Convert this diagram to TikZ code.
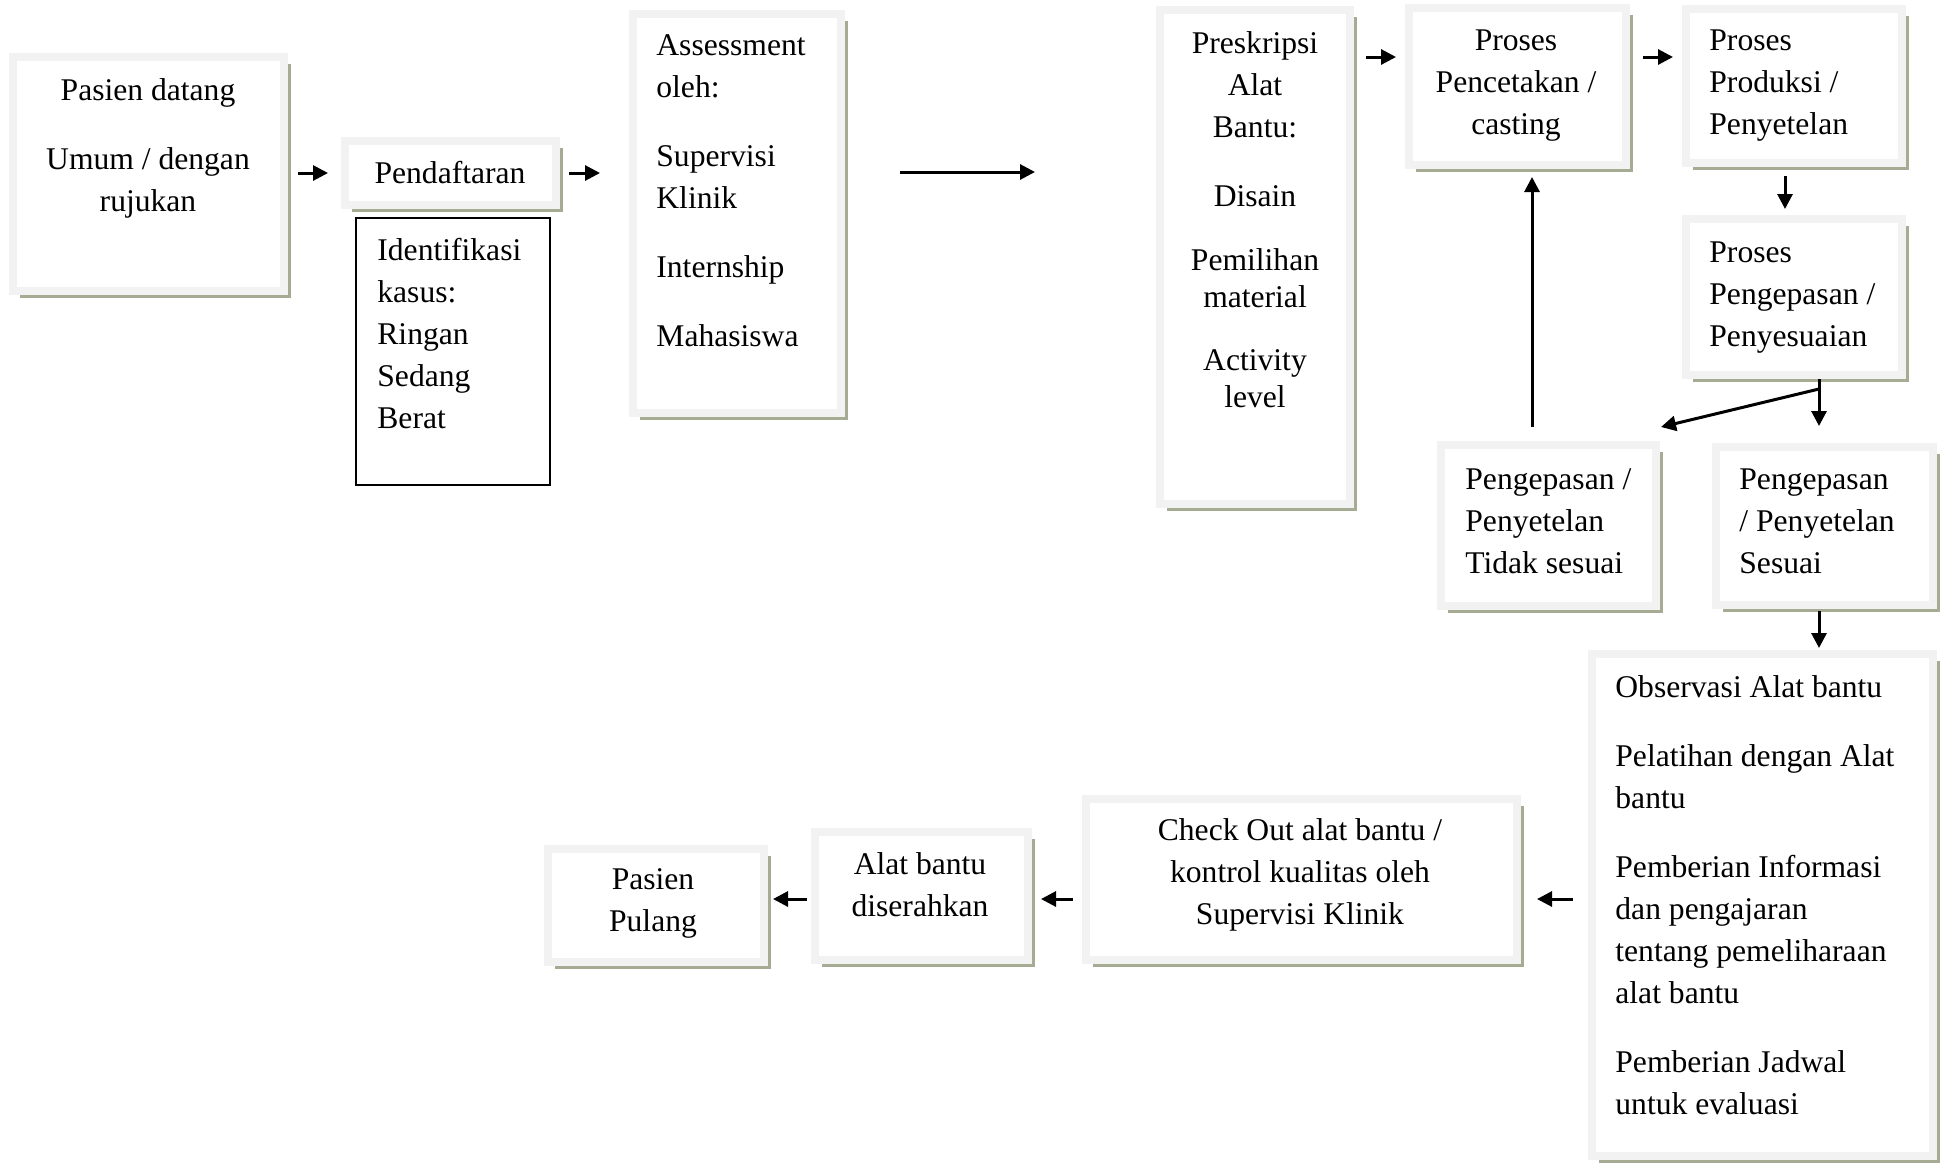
\documentclass[tikz,border=0pt]{standalone}
\usepackage{fontspec}
\setmainfont{Liberation Serif}
\usetikzlibrary{arrows.meta,fit,shadows,calc}
\definecolor{rimgrey}{RGB}{242,242,242}
\definecolor{shade}{RGB}{166,172,148}
\begin{document}
\begin{tikzpicture}[x=0.5pt,y=-0.5pt,
  stepbox/.style={draw=rimgrey, line width=4pt, fill=white, inner sep=0pt,
     drop shadow={shadow xshift=3.5pt, shadow yshift=-3.5pt, fill=shade, opacity=1}},
  casebox/.style={draw=black, line width=0.8pt, inner sep=0pt},
  lbl/.style={inner sep=0pt, font=\fontsize{15.8pt}{21pt}\selectfont},
  arr/.style={line width=1.5pt, -{Triangle[length=7.5pt,width=7.5pt]}},
]
\path[use as bounding box, fill=white] (0,0) rectangle (1942,1163);

% boxes
\node[stepbox, fit={(13,57) (284,291)}] (b1) {};
\node[stepbox, fit={(345,141) (556,205)}] (b2) {};
\node[casebox, fit={(356,218) (550,485)}] (b3) {};
\node[stepbox, fit={(633,14) (841,413)}] (b4) {};
\node[stepbox, fit={(1160,10) (1350,504)}] (b5) {};
\node[stepbox, fit={(1409,8) (1626,165)}] (b6) {};
\node[stepbox, fit={(1686,9) (1902,163)}] (b7) {};
\node[stepbox, fit={(1686,219) (1902,375)}] (b8) {};
\node[stepbox, fit={(1441,445) (1656,606)}] (b9) {};
\node[stepbox, fit={(1716,447) (1933,605)}] (b10) {};
\node[stepbox, fit={(1592,654) (1933,1156)}] (b11) {};
\node[stepbox, fit={(1086,799) (1517,960)}] (b12) {};
\node[stepbox, fit={(815,832) (1028,960)}] (b13) {};
\node[stepbox, fit={(548,849) (764,962)}] (b14) {};

% texts (anchored at the baseline of their last line)
\node[lbl, align=center, anchor=base] (t1) at (148,211) {Pasien datang\\[13.5pt]Umum / dengan\\rujukan};
\node[lbl, align=center, anchor=base] (t2) at (450,183) {Pendaftaran};
\node[lbl, align=left, anchor=base west] (t3) at (377,428) {Identifikasi\\kasus:\\Ringan\\Sedang\\Berat};
\node[lbl, align=left, anchor=base west] (t4) at (656,346) {Assessment\\oleh:\\[13.5pt]Supervisi\\Klinik\\[13.5pt]Internship\\[13.5pt]Mahasiswa};
\node[lbl, align=center, anchor=base] (t5) at (1255,407) {Preskripsi\\Alat\\Bantu:\\[13.5pt]Disain\\[11pt]Pemilihan\\[-2.5pt]material\\[10.5pt]Activity\\[-2.5pt]level};
\node[lbl, align=center, anchor=base] (t6) at (1516,134) {Proses\\Pencetakan /\\casting};
\node[lbl, align=left, anchor=base west] (t7) at (1709,134) {Proses\\Produksi /\\Penyetelan};
\node[lbl, align=left, anchor=base west] (t8) at (1709,346) {Proses\\Pengepasan /\\Penyesuaian};
\node[lbl, align=left, anchor=base west] (t9) at (1465,573) {Pengepasan /\\Penyetelan\\Tidak sesuai};
\node[lbl, align=left, anchor=base west] (t10) at (1739,573) {Pengepasan\\/ Penyetelan\\Sesuai};
\node[lbl, align=left, anchor=base west] (t11) at (1615,1114) {Observasi Alat bantu\\[13.5pt]Pelatihan dengan Alat\\bantu\\[13.5pt]Pemberian Informasi\\dan pengajaran\\tentang pemeliharaan\\alat bantu\\[13.5pt]Pemberian Jadwal\\untuk evaluasi};
\node[lbl, align=center, anchor=base] (t12) at (1300,924) {Check Out alat bantu /\\kontrol kualitas oleh\\Supervisi Klinik};
\node[lbl, align=center, anchor=base] (t13) at (920,916) {Alat bantu\\diserahkan};
\node[lbl, align=center, anchor=base] (t14) at (653,931) {Pasien\\Pulang};

% helper levels for the connectors
\coordinate (rowA) at (0,57);
\coordinate (rowB) at (0,899);
\coordinate (colA) at (1785,0);
\coordinate (colB) at (1819,0);
\coordinate (colC) at (1532,0);
\coordinate (farL) at (900,172);
\coordinate (farR) at (1035,172);
\coordinate (fork) at ($(b8.south -| colB)+(0,10)$);

% connectors
\draw[arr, shorten <=5pt, shorten >=6.5pt] (b1.east |- b2.west) -- (b2.west);
\draw[arr, shorten <=4.5pt, shorten >=14.5pt] (b2.east) -- (b2.east -| b4.west);
\draw[arr] (farL) -- (farR);
\draw[arr, shorten <=6pt, shorten >=4.5pt] (b5.east |- rowA) -- (b6.west |- rowA);
\draw[arr, shorten <=6.5pt, shorten >=4.5pt] (b6.east |- rowA) -- (b7.west |- rowA);
\draw[arr, shorten <=4.5pt, shorten >=3pt] (b7.south -| colA) -- (b8.north -| colA);
\draw[line width=1.5pt] (b8.south -| colB) -- (fork);
\draw[arr, shorten >=8.5pt] (fork) -- (b10.north -| colB);
\draw[arr] (fork) -- ($(b9.north east)+(1,-14)$);
\draw[arr, shorten <=7pt, shorten >=4pt] (b9.north -| colC) -- (b6.south -| colC);
\draw[arr, shorten <=1pt, shorten >=1pt] (b10.south -| colB) -- (b11.north -| colB);
\draw[arr, shorten <=7.5pt, shorten >=8pt] (b11.west |- rowB) -- (b12.east |- rowB);
\draw[arr, shorten <=4.5pt, shorten >=4.5pt] (b12.west |- rowB) -- (b13.east |- rowB);
\draw[arr, shorten <=2pt, shorten >=2.5pt] (b13.west |- rowB) -- (b14.east |- rowB);
\end{tikzpicture}
\end{document}
